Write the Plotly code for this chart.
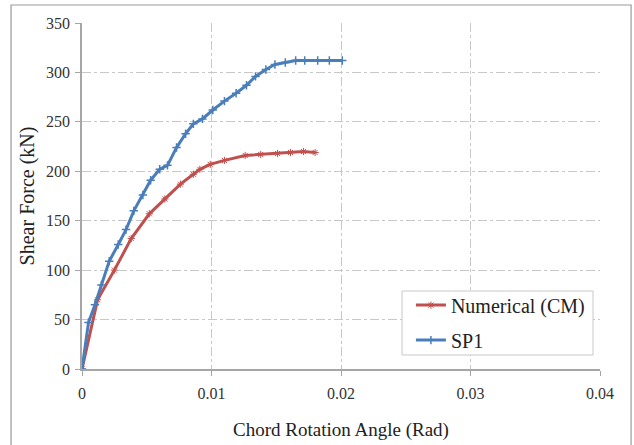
import plotly.graph_objects as go

sp1_x = [0, 0.0005, 0.001, 0.0015, 0.0021, 0.0028, 0.0034, 0.004, 0.0047, 0.0053, 0.006, 0.0066,
         0.0073, 0.008, 0.0086, 0.0093, 0.0101, 0.011, 0.0119, 0.0127, 0.0134, 0.0142, 0.0149,
         0.0157, 0.0165, 0.0172, 0.0182, 0.0191, 0.0201]
sp1_y = [0, 47, 65, 85, 109, 126, 141, 160, 176, 191, 202, 206, 224, 238, 248, 253, 262, 271, 279,
         287, 296, 303, 308, 310, 312, 312, 312, 312, 312]

num_x = [0, 0.0012, 0.0025, 0.0038, 0.0052, 0.0064, 0.0076, 0.0086, 0.0091, 0.0099, 0.011,
         0.0126, 0.0138, 0.0151, 0.0161, 0.0171, 0.018]
num_y = [0, 70, 100, 132, 157, 172, 187, 197, 202, 207, 211, 216, 217, 218, 219, 220, 219]

x_ticks = [0, 0.01, 0.02, 0.03, 0.04]
x_tick_labels = ["0", "0.01", "0.02", "0.03", "0.04"]
y_ticks = [0, 50, 100, 150, 200, 250, 300, 350]

font = "Times New Roman, Liberation Serif, serif"

fig = go.Figure()
fig.add_trace(go.Scatter(
    x=num_x, y=num_y, name="Numerical (CM)", mode="lines+markers", legendgroup="a",
    line=dict(color="#c0504d", width=3),
    marker=dict(symbol="asterisk-open", size=6, color="#c0504d", line=dict(width=1, color="#c0504d")),
))
fig.add_trace(go.Scatter(
    x=sp1_x, y=sp1_y, name="SP1", mode="lines+markers", legendgroup="b",
    line=dict(color="#4a7ebb", width=3),
    marker=dict(symbol="cross-thin-open", size=6, color="#4a7ebb", line=dict(width=1.5, color="#4a7ebb")),
))

grid = dict(showgrid=True, gridcolor="#c8c8c8", griddash="dashdot", gridwidth=1)
tickfont = dict(family=font, size=16, color="#333333")

fig.update_layout(
    width=634, height=445,
    margin=dict(l=82, r=34, t=23, b=76),
    paper_bgcolor="white", plot_bgcolor="white",
    font=dict(family=font, color="#222222", size=16),
    xaxis=dict(range=[0, 0.04], tickvals=x_ticks, ticktext=x_tick_labels, tickfont=tickfont,
               showline=True, linecolor="#a6a6a6", linewidth=1.5, automargin=False,
               ticks="outside", ticklen=5, tickcolor="#a6a6a6", ticklabelstandoff=4,
               zeroline=False,
               title=dict(text="Chord Rotation Angle (Rad)", font=dict(family=font, size=19, color="#222222"), standoff=22),
               **grid),
    yaxis=dict(range=[0, 350], tickvals=y_ticks, tickfont=tickfont,
               showline=True, linecolor="#a6a6a6", linewidth=1.5, automargin=False,
               ticks="outside", ticklen=5, tickcolor="#a6a6a6", ticklabelstandoff=2,
               zeroline=False,
               title=dict(text="Shear Force (kN)", font=dict(family=font, size=20, color="#222222"), standoff=6),
               **grid),
    legend=dict(x=0.635, y=0.241, xanchor="left", yanchor="top",
                bgcolor="rgba(0,0,0,0)", borderwidth=0,
                font=dict(size=20, family=font, color="#222222"), itemwidth=30, tracegroupgap=6),
    showlegend=True,
    shapes=[
        dict(type="rect", xref="paper", yref="paper", x0=-0.137, x1=1.060, y0=-0.234, y1=1.052,
             line=dict(color="#9a9a9a", width=1.2), layer="below"),
        dict(type="rect", xref="paper", yref="paper", x0=0.6178, x1=0.9865, y0=0.0405, y1=0.2254,
             line=dict(color="#c8c8c8", width=1), fillcolor="white", layer="above"),
    ],
)

fig.write_html("out.html", config={"displayModeBar": False},
               post_script="document.body.style.margin='0';")
